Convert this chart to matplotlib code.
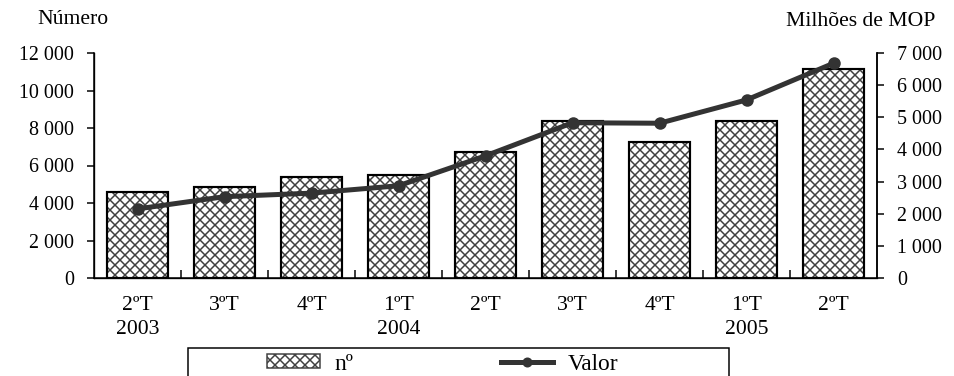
import matplotlib
matplotlib.use("Agg")
import matplotlib.pyplot as plt
from matplotlib.patches import Patch, Rectangle
from matplotlib.lines import Line2D
import numpy as np

plt.rcParams['font.family'] = ['Liberation Serif', 'DejaVu Serif']
plt.rcParams['hatch.linewidth'] = 0.9

quarters = ["2ºT\n2003", "3ºT", "4ºT", "1ºT\n2004", "2ºT", "3ºT", "4ºT", "1ºT\n2005", "2ºT"]
numero = [4600, 4850, 5400, 5500, 6700, 8400, 7250, 8400, 11150]
valor = [2150, 2530, 2640, 2870, 3800, 4830, 4815, 5540, 6680]
left_ticks = [0, 2000, 4000, 6000, 8000, 10000, 12000]
right_ticks = [0, 1000, 2000, 3000, 4000, 5000, 6000, 7000]

def fmt(v):
    return f"{v:,}".replace(",", " ")

W, H = 954, 376
DPI = 120
fig = plt.figure(figsize=(W / DPI, H / DPI), dpi=DPI)
ax = fig.add_axes([94 / W, 1 - 278 / H, (877 - 94) / W, (278 - 53) / H])

x = np.arange(len(quarters))
HATCH_C = '#404040'
LINE_C = '#333333'

# hatched bars (grey hatch) with black outline on top
ax.bar(x, numero, width=0.69, color='white', edgecolor=HATCH_C, hatch='xxxx', linewidth=0, zorder=2)
ax.bar(x, numero, width=0.69, color='none', edgecolor='black', linewidth=1.3, zorder=3)

ax.set_xlim(-0.5, len(quarters) - 0.5)
ax.set_ylim(0, 12000)
ax.set_yticks(left_ticks, [fmt(v) for v in left_ticks], fontsize=12)
ax.set_xticks(x, quarters, fontsize=13, linespacing=1.3)
ax.tick_params(axis='x', length=0, pad=11)
ax.set_xticks(np.arange(0.5, len(quarters) - 1, 1.0), minor=True)
ax.tick_params(axis='x', which='minor', direction='in', length=5, width=0.9)
ax.tick_params(axis='y', direction='out', length=4, width=0.9, pad=8)
ax.spines['top'].set_visible(False)
for s in ('left', 'bottom', 'right'):
    ax.spines[s].set_linewidth(0.9)

ax2 = ax.twinx()
ax2.plot(x, valor, color=LINE_C, linewidth=3.0, marker='o', markersize=6.5, zorder=5)
ax2.set_ylim(0, 7000)
ax2.set_yticks(right_ticks, [fmt(v) for v in right_ticks], fontsize=12)
ax2.tick_params(axis='y', direction='out', length=4, width=0.9, pad=8)
ax2.spines['top'].set_visible(False)
ax2.spines['right'].set_linewidth(0.9)

fig.text(37 / W, 1 - 20 / H, "Número", fontsize=13, ha='left', va='center')
fig.text(935 / W, 1 - 22 / H, "Milhões de MOP", fontsize=13, ha='right', va='center')

# legend box (runs off the bottom edge)
fig.patches.append(Rectangle((188 / W, -0.05), (729 - 188) / W, (H - 348) / H + 0.05,
                             transform=fig.transFigure, facecolor='white',
                             edgecolor='black', linewidth=0.9))
handles = [
    Patch(facecolor='white', edgecolor=HATCH_C, hatch='xxxx', linewidth=0.9),
    Line2D([0], [0], color=LINE_C, linewidth=3.0, marker='o', markersize=5),
]
leg = fig.legend(handles, ["nº", "Valor"], ncol=2, loc='center left',
                 bbox_to_anchor=(267 / W, 1 - 364 / H), frameon=False,
                 fontsize=14, handlelength=2.25, handleheight=0.55,
                 columnspacing=6.3, handletextpad=0.65,
                 borderpad=0, borderaxespad=0)

fig.savefig("out.png", dpi=DPI)
